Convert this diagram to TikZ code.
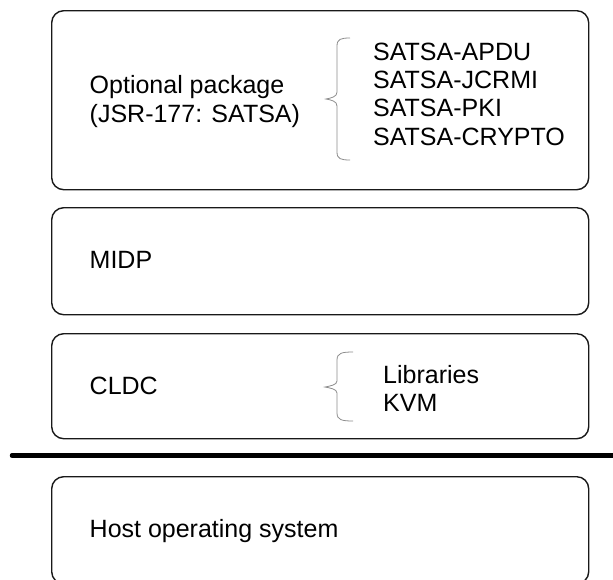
\documentclass[tikz,border=0pt]{standalone}
\usepackage{fontspec}
\setmainfont{Liberation Sans}
\begin{document}
\begin{tikzpicture}[x=1pt,y=-1pt,
  layer/.style={draw=black!90, line width=1.4pt, rounded corners=12pt, minimum width=537pt, anchor=north west, inner sep=0pt},
  lbl/.style={anchor=base west, inner sep=0pt, font=\fontsize{25}{28.5}\selectfont},
  brc/.style={draw=black!45, line width=0.8pt}]
\useasboundingbox (0,0) rectangle (613,579);
% layer boxes
\node[layer, minimum height=179pt] (opt) at (51,10) {};
\node[layer, minimum height=107pt] (midp) at (51,207) {};
\node[layer, minimum height=105pt] (cldc) at (51,333) {};
\node[layer, minimum height=107pt] (host) at (51,476) {};
% separator
\coordinate (sepL) at (12,455.5);
\coordinate (sepR) at (614,455.5);
\draw[line width=4.5pt, line cap=round] (sepL) -- (sepR);
% texts
\node[lbl] (t1) at (89.5,93.5) {Optional package};
\node[lbl] (t2) at (89.5,122) {(JSR-177: SATSA)};
\node[lbl] (s1) at (373,60) {SATSA-APDU};
\node[lbl] (s2) at (373,88.3) {SATSA-JCRMI};
\node[lbl] (s3) at (373,116.7) {SATSA-PKI};
\node[lbl] (s4) at (373,145) {SATSA-CRYPTO};
\node[lbl] (tm) at (89.5,268) {MIDP};
\node[lbl] (tc) at (89.5,394) {CLDC};
\node[lbl] (l1) at (383,383) {Libraries};
\node[lbl] (l2) at (383,411.5) {KVM};
\node[lbl] (th) at (89.5,537) {Host operating system};
% braces
\draw[brc] (350,38) .. controls (341,38) and (337,39) .. (337,46) -- (337,92)
  .. controls (337,97) and (331,98) .. (326,99)
  .. controls (331,100) and (337,101) .. (337,106) -- (337,152)
  .. controls (337,159) and (341,160) .. (350,160);
\draw[brc] (353,352) .. controls (342,352) and (337,353) .. (337,360) -- (337,381)
  .. controls (337,385) and (330,386) .. (325,387)
  .. controls (330,388) and (337,389) .. (337,393) -- (337,413)
  .. controls (337,420) and (342,421) .. (353,421);
\end{tikzpicture}
\end{document}
